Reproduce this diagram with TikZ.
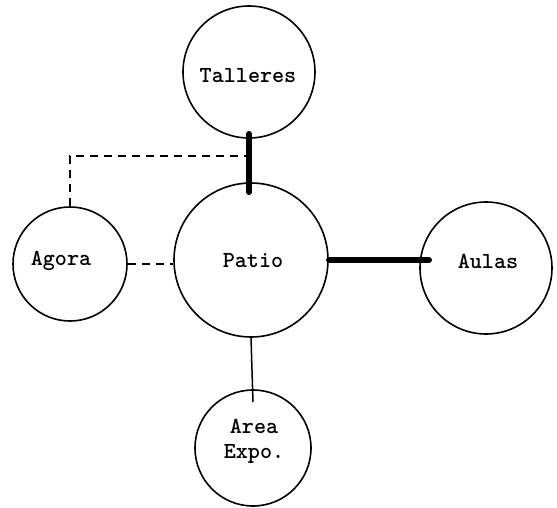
\documentclass[tikz,border=0pt]{standalone}
\begin{document}
\begin{tikzpicture}[x=1pt,y=-1pt,
  place/.style={draw,circle,line width=1.6pt,inner sep=0pt},
  lbl/.style={font=\ttfamily\bfseries\fontsize{23}{25}\selectfont,align=center,inner sep=0pt},
  heavy/.style={line width=5.5pt,line cap=round},
  dashline/.style={line width=2.8pt,dash pattern=on 8pt off 6pt},
  thin/.style={line width=1.5pt}]
\useasboundingbox (0,0) rectangle (557,508);
\node[place,minimum size=132pt] (tal) at (249,72) {};
\node[place,minimum size=154pt] (pat) at (251,260) {};
\node[place,minimum size=114pt] (ago) at (70,264) {};
\node[place,minimum size=132pt] (aul) at (486,268) {};
\node[place,minimum size=116pt] (are) at (253,448) {};
\node[lbl] (taltx) at (248,76) {Talleres};
\node[lbl] (pattx) at (253,261) {Patio};
\node[lbl] (agotx) at (61,261) {Agora};
\node[lbl] (aultx) at (488,261) {Aulas};
\node[lbl] (aretx) at (254,441) {Area\\Expo.};
\coordinate (j) at (252,156);
\draw[heavy] ([yshift=5pt]tal.south) -- ([yshift=-10pt]tal.south |- pat.north);
\draw[dashline] (j) -| (ago.north);
\draw[dashline] (ago.east) -- (ago.east -| pat.west);
\draw[heavy] (pat.east) -- ([xshift=10pt]pat.east -| aul.west);
\draw[thin] (pat.south) -- ([yshift=-13pt]are.north);
\end{tikzpicture}
\end{document}
